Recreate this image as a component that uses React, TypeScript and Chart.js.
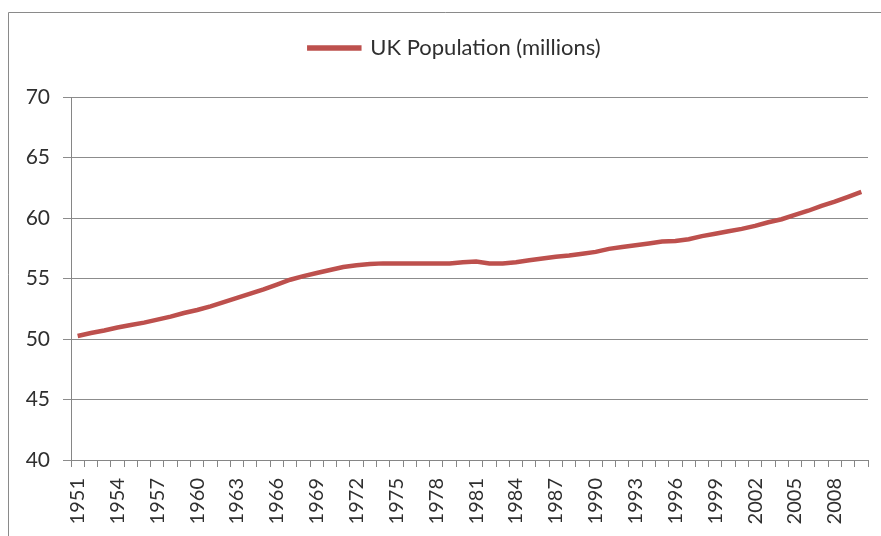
import React, { useEffect, useRef } from "react";
import { Chart, registerables } from "chart.js";

Chart.register(...registerables);

const years: string[] = [
  "1951", "1952", "1953", "1954", "1955", "1956", "1957", "1958", "1959", "1960",
  "1961", "1962", "1963", "1964", "1965", "1966", "1967", "1968", "1969", "1970",
  "1971", "1972", "1973", "1974", "1975", "1976", "1977", "1978", "1979", "1980",
  "1981", "1982", "1983", "1984", "1985", "1986", "1987", "1988", "1989", "1990",
  "1991", "1992", "1993", "1994", "1995", "1996", "1997", "1998", "1999", "2000",
  "2001", "2002", "2003", "2004", "2005", "2006", "2007", "2008", "2009", "2010",
];

const population: number[] = [
  50.25, 50.5, 50.7, 50.95, 51.15, 51.35, 51.6, 51.85, 52.15, 52.4,
  52.7, 53.05, 53.4, 53.75, 54.1, 54.5, 54.9, 55.2, 55.45, 55.7,
  55.95, 56.1, 56.2, 56.25, 56.25, 56.25, 56.25, 56.25, 56.25, 56.35,
  56.4, 56.25, 56.25, 56.35, 56.5, 56.65, 56.8, 56.9, 57.05, 57.2,
  57.45, 57.6, 57.75, 57.9, 58.05, 58.1, 58.25, 58.5, 58.7, 58.9,
  59.1, 59.35, 59.65, 59.9, 60.25, 60.6, 61.0, 61.35, 61.75, 62.15,
];

const seriesName = "UK Population (millions)";
const yMin = 40;
const yMax = 70;
const yStep = 5;
const labelEvery = 3;

const FONT = "Lato, 'Open Sans', sans-serif";
const TEXT = "#2f2f2f";
const AXIS = "#868686";
const GRID = "#8c8c8c";
const LINE = "#BD504D";

const framePlugin = {
  id: "outerFrame",
  beforeDraw(chart: any) {
    const ctx = chart.ctx;
    ctx.save();
    ctx.strokeStyle = "#8a8a8a";
    ctx.lineWidth = 1;
    ctx.beginPath();
    ctx.moveTo(8.5, chart.height + 2);
    ctx.lineTo(8.5, 12.5);
    ctx.lineTo(chart.width + 2, 12.5);
    ctx.stroke();
    ctx.restore();
  },
};

// shift the legend box so it is centred like the original (Excel) chart
const legendShiftPlugin = {
  id: "legendShift",
  afterLayout(chart: any) {
    if (chart.legend) {
      chart.legend.left = 42;
    }
  },
};

export default function App() {
  const ref = useRef<HTMLCanvasElement | null>(null);

  useEffect(() => {
    if (!ref.current) return;
    const chart = new Chart(ref.current, {
      type: "line",
      data: {
        labels: years,
        datasets: [
          {
            label: seriesName,
            data: population,
            borderColor: LINE,
            backgroundColor: LINE,
            borderWidth: 4.5,
            pointRadius: 0,
            pointHoverRadius: 0,
            tension: 0,
            fill: false,
          },
        ],
      },
      options: {
        responsive: false,
        animation: false,
        devicePixelRatio: 1,
        layout: { padding: { top: 8, right: 13, left: 0, bottom: 0 } },
        plugins: {
          legend: {
            display: true,
            position: "top",
            labels: {
              boxWidth: 50,
              boxHeight: 1,
              padding: 29,
              color: TEXT,
              font: { family: FONT, size: 22 },
            },
          },
          subtitle: {
            display: true,
            text: "",
            weight: 500,
            font: { size: 10, lineHeight: 1 },
            padding: { top: 0, bottom: 18 },
          } as any,
          tooltip: { enabled: false },
        },
        scales: {
          x: {
            type: "category",
            offset: true,
            grid: {
              offset: true,
              drawOnChartArea: false,
              drawTicks: true,
              tickLength: 7,
              color: AXIS,
            },
            border: { color: AXIS, width: 1 },
            ticks: {
              autoSkip: false,
              maxRotation: 90,
              minRotation: 90,
              padding: 11,
              color: TEXT,
              font: { family: FONT, size: 20 },
              callback: (_v: any, i: number) => (i % labelEvery === 0 ? years[i] : ""),
            },
            afterFit: (s: any) => {
              s.height = 76;
              s.paddingRight = 0;
              s.paddingLeft = 0;
            },
          },
          y: {
            min: yMin,
            max: yMax,
            ticks: {
              stepSize: yStep,
              padding: 13,
              color: TEXT,
              font: { family: FONT, size: 21 },
            },
            grid: { color: GRID, tickLength: 8, lineWidth: 1 },
            border: { color: AXIS, width: 1 },
            afterFit: (s: any) => {
              s.width = 71;
            },
          },
        },
      },
      plugins: [framePlugin, legendShiftPlugin],
    });
    return () => chart.destroy();
  }, []);

  return (
    <div style={{ position: "fixed", left: 0, top: 0, width: 881, height: 536, background: "#fff" }}>
      <canvas ref={ref} width={881} height={536} style={{ display: "block" }} />
    </div>
  );
}
